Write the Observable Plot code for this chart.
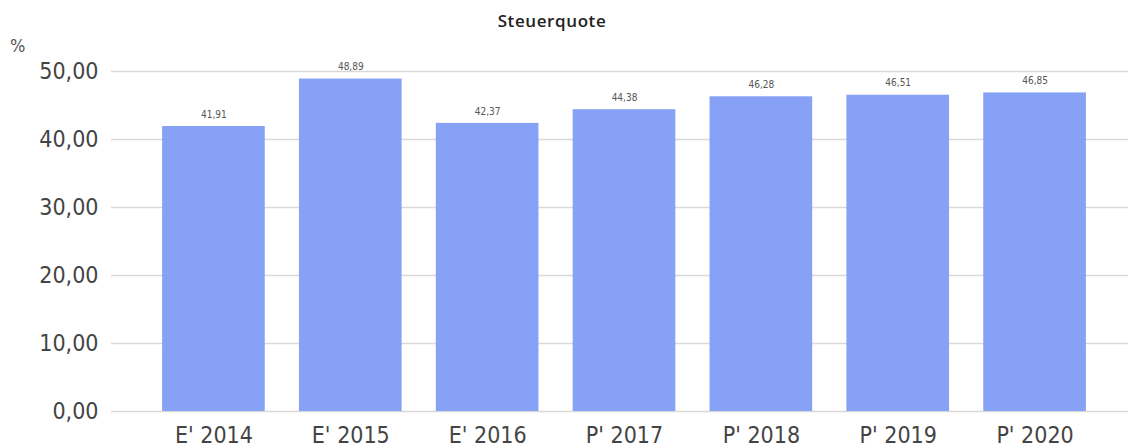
<!DOCTYPE html>
<html>
<head>
<meta charset="utf-8">
<script src="https://cdn.jsdelivr.net/npm/d3@7"></script>
<script src="https://cdn.jsdelivr.net/npm/@observablehq/plot@0.6"></script>
<style>
  html, body { margin: 0; padding: 0; background: #fff; }
  #wrap { position: relative; width: 1131px; height: 448px; overflow: hidden; }
  #title { position: absolute; left: 0; top: 12px; width: 1104px; text-align: center; z-index: 2;
           font-family: "Open Sans", sans-serif; font-weight: 600; font-size: 17px; line-height: 17px;
           letter-spacing: 0.6px; color: #222; }
  #unit { position: absolute; left: 10px; top: 37px; z-index: 2; font-family: "DejaVu Sans", sans-serif;
          font-stretch: condensed; font-size: 18px; line-height: 18px; color: #555; }
  svg { position: absolute; left: 0; top: 0; z-index: 1; }
</style>
</head>
<body>
<div id="wrap">
  <div id="title">Steuerquote</div>
  <div id="unit">%</div>
</div>
<script>
const categories = ["E' 2014", "E' 2015", "E' 2016", "P' 2017", "P' 2018", "P' 2019", "P' 2020"];
const values = [41.91, 48.89, 42.37, 44.38, 46.28, 46.51, 46.85];
const yTicks = [0, 10, 20, 30, 40, 50];

const data = categories.map((c, i) => ({cat: c, value: values[i]}));
const fmt = d => d.toFixed(2).replace(".", ",");
const font = "'DejaVu Sans Condensed', 'DejaVu Sans', sans-serif";

const chart = Plot.plot({
  width: 1131,
  height: 448,
  marginLeft: 111,
  marginRight: 3,
  marginTop: 71,
  marginBottom: 37,
  style: {fontFamily: font, fontStretch: "condensed", background: "transparent"},
  x: {domain: categories, paddingInner: 0.25, paddingOuter: 0.125, insetLeft: 34, insetRight: 25, round: false, label: null},
  y: {domain: [0, 50], label: null},
  marks: [
    Plot.ruleY(yTicks, {stroke: "#d9d9d9", strokeWidth: 1.5}),
    Plot.barY(data, {x: "cat", y: "value", fill: "#86a1f6"}),
    Plot.text(data, {x: "cat", y: "value", text: d => fmt(d.value), dy: -12, fontSize: 10, fill: "#555"}),
    Plot.axisY({ticks: yTicks, tickFormat: fmt, tickSize: 0, tickPadding: 13, fontSize: 23, color: "#444", label: null}),
    Plot.axisX({tickSize: 0, tickPadding: 15, fontSize: 23, color: "#444", label: null})
  ]
});
document.getElementById("wrap").appendChild(chart);
</script>
</body>
</html>
